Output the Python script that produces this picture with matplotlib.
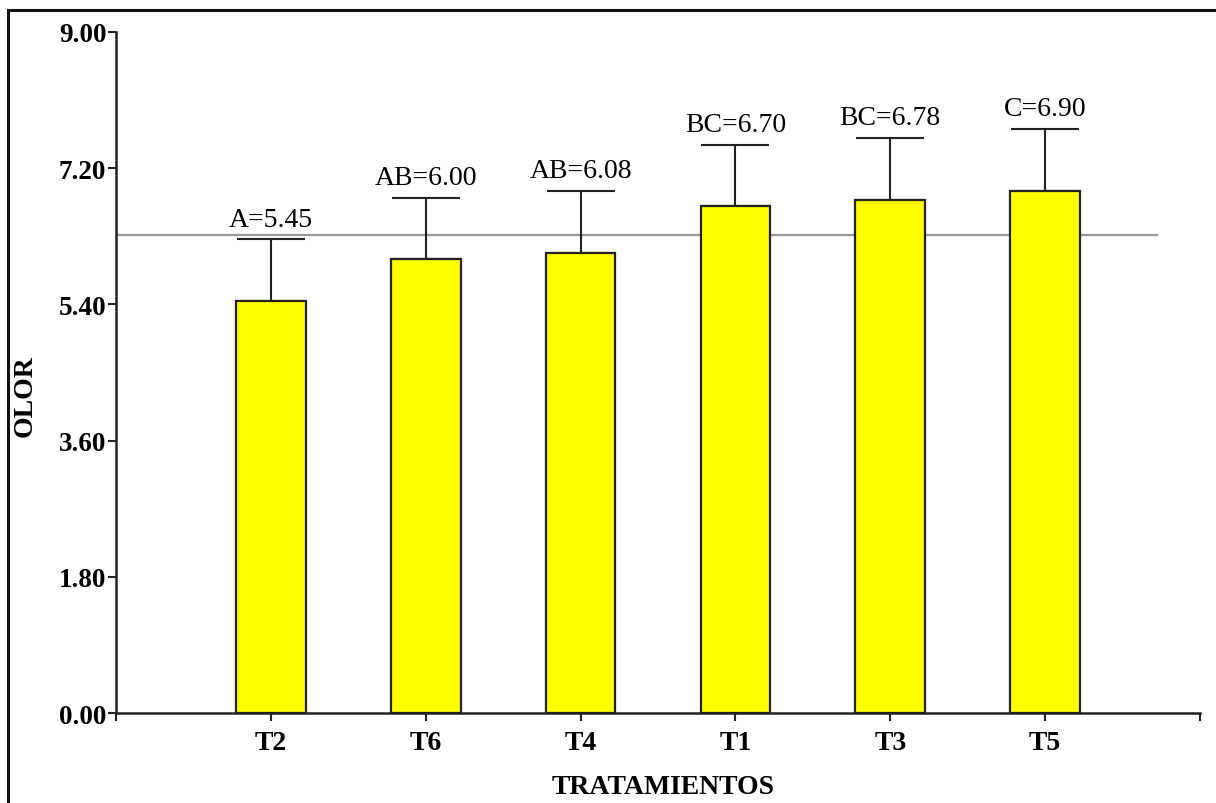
import matplotlib
matplotlib.use("Agg")
import matplotlib.pyplot as plt
from matplotlib.patches import Rectangle

# Olor scores per treatment, sorted ascending
tratamientos = ["T2", "T6", "T4", "T1", "T3", "T5"]
medias = [5.45, 6.00, 6.08, 6.70, 6.78, 6.90]
letras = ["A", "AB", "AB", "BC", "BC", "C"]
error = [0.81, 0.81, 0.82, 0.81, 0.82, 0.82]
y_ticks = [0.00, 1.80, 3.60, 5.40, 7.20, 9.00]

plt.rcParams["font.family"] = ["Liberation Serif", "DejaVu Serif"]

fig = plt.figure(figsize=(12.16, 8.04), dpi=100)
ax = fig.add_axes([0.0954, 0.1119, 0.8914, 0.8471])

pos = list(range(1, len(tratamientos) + 1))
ax.bar(pos, medias, width=0.45, color="#ffff00", edgecolor="#222222",
       linewidth=1.6, zorder=3)
ax.errorbar(pos, medias, yerr=[[0] * len(medias), error], fmt="none",
            ecolor="#222222", elinewidth=1.5, capsize=24.8, capthick=1.5,
            zorder=2)

# overall mean line
media_general = sum(medias) / len(medias)
ax.plot([0, 6.72], [media_general, media_general], color="#999999",
        linewidth=1.6, zorder=1)

for x, m, e, l in zip(pos, medias, error, letras):
    ax.annotate(f"{l}={m:.2f}", (x, m + e), xytext=(0, 5.5),
                textcoords="offset points", ha="center", va="bottom",
                fontsize=20)

ax.set_xlim(0, 7)
ax.set_ylim(0, 9)
ax.set_xticks([0] + pos + [7])
ax.set_xticklabels([""] + tratamientos + [""], fontsize=20, fontweight="bold")
ax.set_yticks(y_ticks)
ax.set_yticklabels([f"{v:.2f}" for v in y_ticks], fontsize=19.5,
                   fontweight="bold")
ax.tick_params(axis="both", direction="out", length=6, width=1.5,
               color="#222222")
ax.tick_params(axis="x", pad=6)
ax.tick_params(axis="y", pad=1)

for s in ["top", "right"]:
    ax.spines[s].set_visible(False)
for s in ["left", "bottom"]:
    ax.spines[s].set_linewidth(1.8)
    ax.spines[s].set_color("#222222")

fig.text(0.545, 0.021, "TRATAMIENTOS", ha="center", va="center",
         fontsize=20, fontweight="bold")
fig.text(0.021, 0.507, "OLOR", ha="center", va="center", rotation=90,
         fontsize=20, fontweight="bold")

# outer frame
fig.patches.append(Rectangle((8 / 1216, -0.1), 1.2, 1 - 11 / 804 + 0.1,
                             transform=fig.transFigure, fill=False,
                             edgecolor="#111111", linewidth=2.2))

fig.savefig("out.png", dpi=100)
